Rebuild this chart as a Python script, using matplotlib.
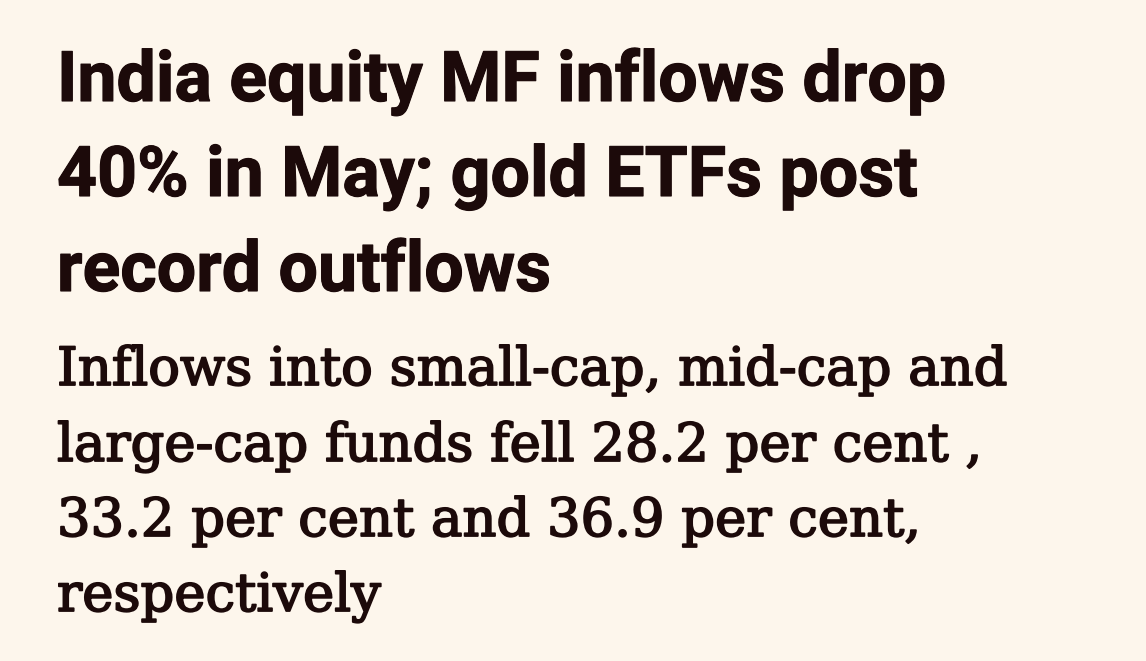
import matplotlib
matplotlib.use("Agg")
import matplotlib.pyplot as plt
import matplotlib.patheffects as pe

# Text content
title_lines = ["India equity MF inflows drop",
               "40% in May; gold ETFs post",
               "record outflows"]
subtitle_lines = ["Inflows into small-cap, mid-cap and",
                  "large-cap funds fell 28.2 per cent ,",
                  "33.2 per cent and 36.9 per cent,",
                  "respectively"]

# Layout (pixels)
W, H = 1146, 661
left_px = 57
title_baselines = [101, 196, 291]
title_right = [950, 912, 545]
sub_baselines = [385, 461, 536, 611]
sub_right = [1020, 975, 912, 378]

bg = "#FDF6EC"
ink = "#1C0A0A"

title_font = ["Liberation Sans Narrow", "Roboto", "DejaVu Sans"]
sub_font = ["DejaVu Serif", "Liberation Serif"]

fig = plt.figure(figsize=(W / 100, H / 100), dpi=100, facecolor=bg)
renderer = fig.canvas.get_renderer()


def place(lines, baselines, rights, family, weight, base_size=40, stroke=0.0):
    texts = []
    for line, b in zip(lines, baselines):
        t = fig.text(left_px / W, 1 - b / H, line, family=family,
                     fontweight=weight, fontsize=base_size, color=ink,
                     ha="left", va="baseline")
        texts.append(t)
    scales = []
    for t, r in zip(texts, rights):
        w = t.get_window_extent(renderer=renderer).width
        scales.append((r - left_px) / w)
    s = sum(scales[:-1]) / len(scales[:-1])
    for t in texts:
        t.set_fontsize(base_size * s)
        if stroke > 0:
            t.set_path_effects([pe.withStroke(linewidth=stroke, foreground=ink)])
    return texts


place(title_lines, title_baselines, title_right, title_font, "bold", stroke=0.8)
place(subtitle_lines, sub_baselines, sub_right, sub_font, "normal", stroke=1.3)

fig.savefig("out.png", dpi=100, facecolor=bg)
